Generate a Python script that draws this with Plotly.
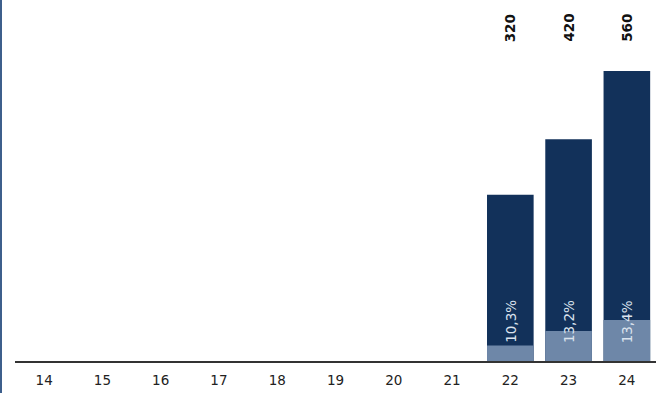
import plotly.graph_objects as go

categories = ["14", "15", "16", "17", "18", "19", "20", "21", "22", "23", "24"]
totals = [None, None, None, None, None, None, None, None, 321, 428, 560]
total_labels = ["", "", "", "", "", "", "", "", "320", "420", "560"]
light_part = [None, None, None, None, None, None, None, None, 30, 58, 79]
pct_labels = ["", "", "", "", "", "", "", "", "10,3%", "13,2%", "13,4%"]

DARK = "#12315a"
LIGHT = "#6e87a8"
FONT = "DejaVu Sans"

W, H = 661, 393
ml, mr, mt, mb = 15, 5, 0, 32
plot_h = H - mt - mb

fig = go.Figure()
fig.add_trace(go.Bar(x=categories, y=totals, marker=dict(color=DARK, line=dict(width=0)),
                     width=0.8, hoverinfo="skip"))
fig.add_trace(go.Bar(x=categories, y=light_part, marker=dict(color=LIGHT, line=dict(width=0)),
                     width=0.8, hoverinfo="skip"))

annotations = []
for i, t in enumerate(total_labels):
    if t:
        annotations.append(dict(x=i, xref="x", y=(plot_h - (44 - mt)) / plot_h, yref="paper",
                                text=f"<b>{t}</b>", textangle=-90, showarrow=False,
                                xanchor="center", yanchor="bottom",
                                font=dict(family=FONT, size=13.5, color="#111111")))
for i, p in enumerate(pct_labels):
    if p:
        annotations.append(dict(x=i, xref="x", y=16 / plot_h, yref="paper",
                                text=p, textangle=-90, showarrow=False,
                                xanchor="center", yanchor="bottom",
                                font=dict(family=FONT, size=13.5, color="#dbe3ee")))

fig.update_layout(
    width=W, height=H,
    margin=dict(l=ml, r=mr, t=mt, b=mb),
    barmode="overlay",
    showlegend=False,
    plot_bgcolor="white", paper_bgcolor="white",
    xaxis=dict(type="category", showgrid=False, showline=True, linecolor="#333333", linewidth=1.5,
               ticks="", ticklabelstandoff=6,
               tickfont=dict(family=FONT, size=13.5, color="#222222"), zeroline=False,
               range=[-0.5, 10.5]),
    yaxis=dict(visible=False, range=[0, 560 * plot_h / 290], showgrid=False, zeroline=False),
    annotations=annotations,
    shapes=[dict(type="line", xref="paper", yref="paper",
                 x0=-(ml - 1) / (W - ml - mr), x1=-(ml - 1) / (W - ml - mr),
                 y0=-0.2, y1=1.2, line=dict(color="#3d5f8c", width=2))],
)

fig.write_html("out.html", config={"displayModeBar": False},
               post_script="document.body.style.margin='0';")
